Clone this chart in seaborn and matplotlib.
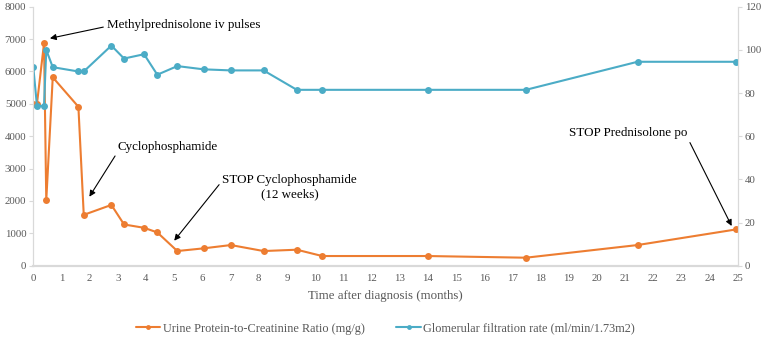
import matplotlib
matplotlib.use("Agg")
import matplotlib.pyplot as plt
import pandas as pd
import seaborn as sns

# values
months = [0, 0.13, 0.38, 0.46, 0.69, 1.6, 1.79, 2.77, 3.22, 3.93, 4.4, 5.11,
          6.04, 7.01, 8.17, 9.35, 10.25, 13.99, 17.48, 21.44, 24.94]
upcr = [5000, 5000, 6870, 2020, 5820, 4910, 1570, 1877, 1273, 1170, 1027, 452,
        535, 637, 452, 493, 298, 298, 246, 637, 1120]
gfr = [92, 74, 74, 100, 92, 90, 90, 102, 96, 98, 88.5, 92.5,
       91, 90.5, 90.5, 81.5, 81.5, 81.5, 81.5, 94.5, 94.5]

upcr_label = "Urine Protein-to-Creatinine Ratio (mg/g)"
gfr_label = "Glomerular filtration rate (ml/min/1.73m2)"

df = pd.DataFrame({"month": months, "upcr": upcr, "gfr": gfr})

sns.set_style("white")
plt.rcParams["font.family"] = ["Liberation Serif", "DejaVu Serif"]

orange = "#ED7D31"
teal = "#4BACC6"
grey_txt = "#595959"
grey_line = "#d9d9d9"

fig = plt.figure(figsize=(7.71, 3.38), dpi=100)
ax = fig.add_axes([0.0432, 0.214, 0.9138, 0.766])
ax2 = ax.twinx()

sns.lineplot(data=df, x="month", y="upcr", ax=ax, color=orange, marker="o",
             markersize=5, markeredgewidth=0, linewidth=1.5, label=upcr_label, legend=False)
sns.lineplot(data=df, x="month", y="gfr", ax=ax2, color=teal, marker="o",
             markersize=5, markeredgewidth=0, linewidth=1.5, label=gfr_label, legend=False)

ax.set_xlim(0, 25)
ax.set_ylim(0, 8000)
ax2.set_ylim(0, 120)
ax.set_xticks(range(0, 26))
ax.set_yticks(range(0, 8001, 1000))
ax2.set_yticks(range(0, 121, 20))

ax.set_xlabel("Time after diagnosis (months)", fontsize=9.3, color=grey_txt, labelpad=5)
ax.set_ylabel("")
ax2.set_ylabel("")

for a in (ax, ax2):
    a.spines["top"].set_visible(False)
    for s in ("left", "right", "bottom"):
        a.spines[s].set_color(grey_line)
    a.spines["bottom"].set_linewidth(1.5)
ax.tick_params(axis="x", length=0, labelsize=7.8, colors=grey_txt, pad=6)
ax.tick_params(axis="y", length=3, color=grey_line, labelsize=7.8, colors=grey_txt, pad=2)
ax2.tick_params(axis="y", length=3, color=grey_line, labelsize=7.8, colors=grey_txt, pad=2)
ax2.tick_params(axis="x", length=0)

arrow = dict(arrowstyle="-|>", color="black", lw=0.8, mutation_scale=9, shrinkA=0, shrinkB=0)
note_kw = dict(fontsize=9.4, color="black", annotation_clip=False)

ax.annotate("Methylprednisolone iv pulses", xy=(0.59, 7024), xytext=(2.6, 7430),
            ha="left", va="center", arrowprops={**arrow, "relpos": (0, 0.4)}, **note_kw)
ax.annotate("Cyclophosphamide", xy=(1.99, 2131), xytext=(4.78, 3676),
            ha="center", va="center", arrowprops={**arrow, "relpos": (0, 0.1)}, **note_kw)
ax.annotate("STOP Cyclophosphamide\n(12 weeks)", xy=(5.0, 772), xytext=(9.1, 2430),
            ha="center", va="center", multialignment="center",
            arrowprops={**arrow, "relpos": (0, 0.75)}, **note_kw)
ax.annotate("STOP Prednisolone po", xy=(24.78, 1226), xytext=(21.12, 4090),
            ha="center", va="center", arrowprops={**arrow, "relpos": (1, 0.1)}, **note_kw)

h1, l1 = ax.get_legend_handles_labels()
h2, l2 = ax2.get_legend_handles_labels()
leg = fig.legend(h1 + h2, l1 + l2, loc="center", bbox_to_anchor=(0.5, 0.028), ncol=2,
                 frameon=False, fontsize=8.8, handlelength=2.0, columnspacing=2.6,
                 handletextpad=0.2, labelcolor=grey_txt)
for line in leg.get_lines():
    line.set_markersize(3.5)

fig.savefig("out.png", dpi=100)
